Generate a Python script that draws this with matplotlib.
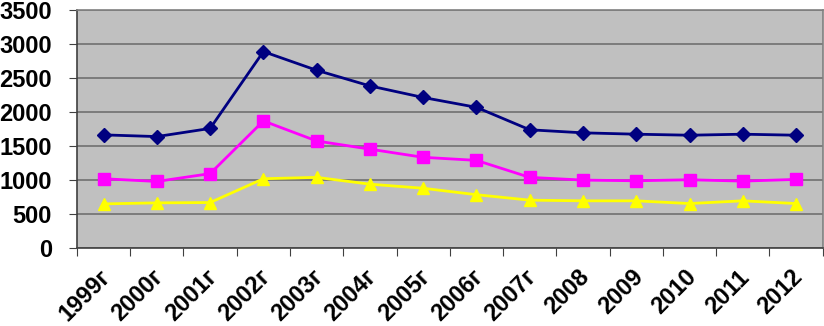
import numpy as np
import matplotlib.pyplot as plt
import matplotlib.transforms as mtransforms

# Categories (years) and the three series
years = ["1999г", "2000г", "2001г", "2002г", "2003г", "2004г", "2005г",
         "2006г", "2007г", "2008", "2009", "2010", "2011", "2012"]
navy_vals = [1665, 1640, 1760, 2890, 2615, 2385, 2215, 2070, 1740, 1695, 1675, 1660, 1675, 1660]
pink_vals = [1020, 980, 1095, 1870, 1575, 1455, 1335, 1290, 1040, 1000, 990, 1005, 985, 1010]
yellow_vals = [650, 665, 670, 1020, 1040, 940, 880, 785, 705, 695, 695, 655, 695, 655]
y_ticks = [0, 500, 1000, 1500, 2000, 2500, 3000, 3500]

plt.rcParams['font.family'] = ['Liberation Sans', 'DejaVu Sans']

fig = plt.figure(figsize=(8.24, 3.26), dpi=100)
ax = fig.add_axes([0.0934, 0.239, 0.905, 0.730])
ax.set_facecolor("#C0C0C0")

x = np.arange(len(years))
ax.plot(x, navy_vals, color="#000080", lw=2, marker="D", ms=7, zorder=5)
ax.plot(x, pink_vals, color="#FF00FF", lw=2, marker="s", ms=8, zorder=4)
ax.plot(x, yellow_vals, color="#FFFF00", lw=2, marker="^", ms=8, zorder=3)

# Axes ranges and grid
ax.set_xlim(-0.5, len(years) - 0.5)
ax.set_ylim(0, 3500)
ax.set_yticks(y_ticks)
ax.set_yticklabels([str(v) for v in y_ticks], fontsize=17, fontweight="bold")
ax.yaxis.grid(True, color="#707070", lw=1.2)
ax.set_axisbelow(True)

# Ticks at category boundaries, labels centred under each point
ax.set_xticks(np.arange(len(years) + 1) - 0.5)
ax.set_xticklabels([])
ax.set_xticks(x, minor=True)
ax.set_xticklabels(years, minor=True, rotation=45, ha="right", va="top",
                   rotation_mode="anchor", fontsize=17, fontweight="bold")
ax.tick_params(axis="x", which="minor", length=0, pad=12.5)
ax.tick_params(axis="x", which="major", length=5.5, color="#404040")
ax.tick_params(axis="y", length=6, color="#404040", pad=12)

# nudge the rotated labels a little to the left
shift = mtransforms.ScaledTranslation(-5 / 100, 0, fig.dpi_scale_trans)
for lbl in ax.get_xticklabels(minor=True):
    lbl.set_transform(lbl.get_transform() + shift)

for side in ["left", "bottom"]:
    ax.spines[side].set_color("#404040")
    ax.spines[side].set_linewidth(1.2)
for side in ["top", "right"]:
    ax.spines[side].set_color("#808080")
    ax.spines[side].set_linewidth(1.2)

fig.savefig("out.png", dpi=100)
